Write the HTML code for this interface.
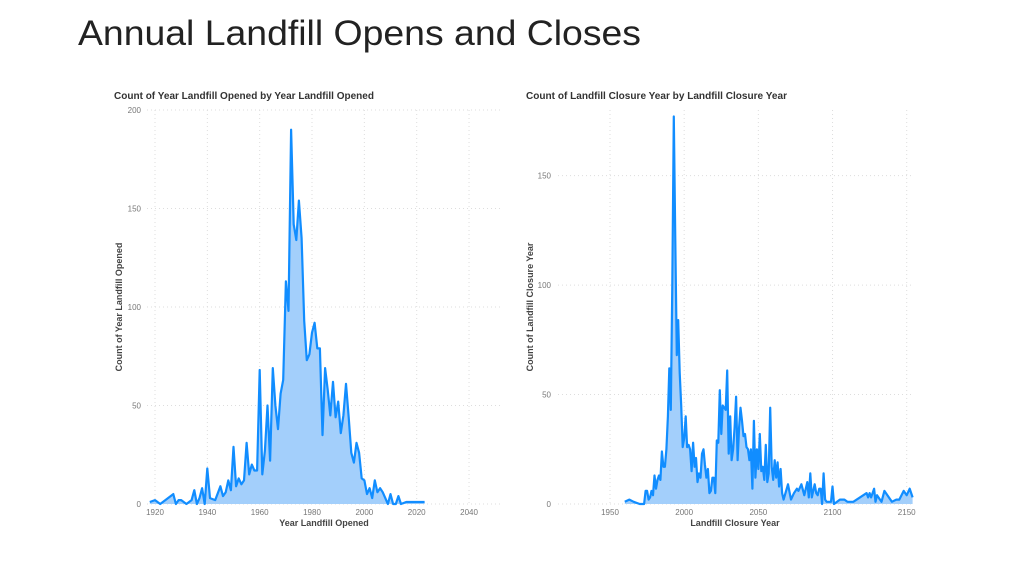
<!DOCTYPE html>
<html><head><meta charset="utf-8"><style>
body{margin:0;width:1024px;height:576px;background:#fff;overflow:hidden;font-family:"Liberation Sans",sans-serif}
</style></head><body>
<svg id="s" width="1024" height="576" xmlns="http://www.w3.org/2000/svg" font-family="Liberation Sans, sans-serif">
<text x="78" y="45" font-size="35" fill="#222" textLength="563" lengthAdjust="spacingAndGlyphs">Annual Landfill Opens and Closes</text>
<text x="114" y="99" font-size="10.5" font-weight="bold" fill="#333" textLength="260" lengthAdjust="spacingAndGlyphs">Count of Year Landfill Opened by Year Landfill Opened</text>
<text x="526" y="99" font-size="10.5" font-weight="bold" fill="#333" textLength="261" lengthAdjust="spacingAndGlyphs">Count of Landfill Closure Year by Landfill Closure Year</text>
<g id="g"></g>
</svg>
<script>
var NS="http://www.w3.org/2000/svg",g=document.getElementById('g');
function el(t,a,txt){var e=document.createElementNS(NS,t);for(var k in a)e.setAttribute(k,a[k]);if(txt)e.textContent=txt;g.appendChild(e);return e;}
function chart(o){
 o.yt.forEach(function(v){var y=o.y0-v*o.ys;el('line',{x1:o.xl,x2:o.xr,y1:y,y2:y,stroke:'#ddd','stroke-dasharray':'1,3'});
  el('text',{x:o.ylx,y:y+3,'font-size':'8','text-anchor':'end',fill:'#777'},''+v);});
 o.xt.forEach(function(v){var x=o.x0+(v-o.xb)*o.xs;el('line',{x1:x,x2:x,y1:o.ytop,y2:o.y0,stroke:'#ddd','stroke-dasharray':'1,3'});
  el('text',{x:x,y:o.y0+11,'font-size':'8','text-anchor':'middle',fill:'#777'},''+v);});
 var d=o.d,pts=[];for(var i=0;i<d.length;i+=2){pts.push((o.x0+(d[i]-o.xb)*o.xs).toFixed(1)+','+(o.y0-d[i+1]*o.ys).toFixed(1));}
 var first=pts[0].split(','),last=pts[pts.length-1].split(',');
 el('path',{d:'M'+first[0]+','+o.y0+' L'+pts.join(' L')+' L'+last[0]+','+o.y0+'Z',fill:'#a3cffb'});
 el('path',{d:'M'+pts.join(' L'),fill:'none',stroke:'#118dff','stroke-width':'2.2','stroke-linejoin':'round'});
 el('text',{x:o.xtx,y:526,'font-size':'9','font-weight':'bold','text-anchor':'middle',fill:'#444'},o.xtitle);
 el('text',{x:0,y:0,'font-size':'9','font-weight':'bold','text-anchor':'middle',fill:'#444',transform:'translate('+o.ytx+','+o.yty+') rotate(-90)'},o.ytitle);
}
chart({x0:155,xb:1920,xs:2.617,y0:504,ys:1.97,xl:147,xr:503,ytop:110,ylx:141,yt:[0,50,100,150,200],xt:[1920,1940,1960,1980,2000,2020,2040],
 xtitle:'Year Landfill Opened',xtx:324,ytitle:'Count of Year Landfill Opened',ytx:122,yty:307,
 d:[1918,1,1920,2,1922,0,1927,5,1928,0,1929,2,1930,2,1932,0,1934,2,1935,7,1936,0,1937,3,1938,8,1939,0,1940,18,1941,3,1943,2,1945,9,1946,4,1947,6,1948,12,1949,7,1950,29,1951,9,1952,13,1953,10,1954,12,1955,31,1956,15,1957,20,1958,17,1959,17,1960,68,1961,15,1962,27,1963,50,1964,22,1965,69,1966,50,1967,38,1968,56,1969,63,1970,113,1971,98,1972,190,1973,142,1974,134,1975,154,1976,135,1977,93,1978,73,1979,76,1980,87,1981,92,1982,79,1983,79,1984,35,1985,69,1986,58,1987,45,1988,62,1989,44,1990,52,1991,36,1992,45,1993,61,1994,44,1995,26,1996,21,1997,31,1998,26,1999,13,2000,12,2001,5,2002,8,2003,3,2004,12,2005,6,2006,8,2007,6,2008,3,2009,0,2010,5,2011,0,2012,0,2013,4,2014,0,2016,1,2023,1]});
chart({x0:610,xb:1950,xs:1.4835,y0:504,ys:2.189,xl:558,xr:913,ytop:110,ylx:551,yt:[0,50,100,150],xt:[1950,2000,2050,2100,2150],
 xtitle:'Landfill Closure Year',xtx:735,ytitle:'Count of Landfill Closure Year',ytx:533,yty:307,
 d:[1960,1,1963,2,1966,1,1970,0,1973,0,1974,6,1975,6,1976,2,1977,3,1978,6,1979,4,1980,13,1981,7,1982,11,1983,13,1984,11,1985,24,1986,17,1987,17,1988,25,1989,40,1990,62,1991,43,1992,100,1993,177,1994,120,1995,68,1996,84,1997,60,1998,45,1999,26,2000,30,2001,40,2002,26,2003,27,2004,25,2005,15,2006,28,2007,17,2008,21,2009,10,2010,14,2011,12,2012,23,2013,25,2014,18,2015,12,2016,16,2017,5,2018,6,2019,12,2020,12,2021,5,2022,29,2023,28,2024,52,2025,32,2026,45,2027,44,2028,43,2029,61,2030,23,2031,40,2032,20,2033,25,2034,35,2035,49,2036,20,2037,35,2038,44,2039,38,2040,31,2041,32,2042,26,2043,25,2044,20,2045,25,2046,7,2047,38,2048,12,2049,25,2050,16,2051,32,2052,15,2053,17,2054,11,2055,27,2056,10,2057,14,2058,44,2059,17,2060,11,2061,20,2062,12,2063,19,2064,8,2065,16,2066,5,2067,2,2070,9,2072,2,2074,5,2076,7,2077,6,2079,9,2081,4,2083,10,2084,3,2085,14,2086,3,2088,9,2089,5,2090,4,2091,7,2092,7,2093,0,2094,14,2095,2,2096,1,2099,1,2100,8,2101,0,2105,2,2108,2,2110,1,2114,1,2123,5,2124,3,2125,5,2126,3,2128,7,2129,1,2130,4,2133,1,2135,6,2137,4,2140,1,2143,2,2145,2,2148,6,2150,4,2152,7,2154,3]});
</script>
</body></html>
